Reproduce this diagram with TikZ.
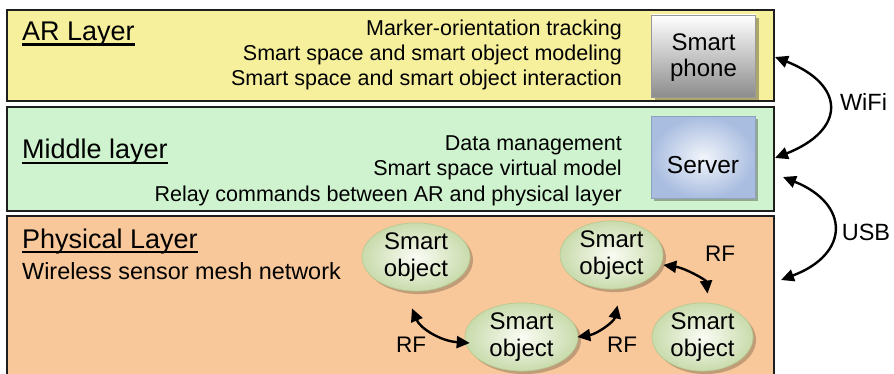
\documentclass[tikz,border=0pt]{standalone}
\usepackage{fontspec}
\setmainfont{Liberation Sans}
\usetikzlibrary{shapes.geometric,arrows.meta,shadows,calc}

\definecolor{arfill}{HTML}{F6F09C}
\definecolor{midfill}{HTML}{CFF3CE}
\definecolor{physfill}{HTML}{F8C89A}
\definecolor{frame}{HTML}{1E1E1E}
\definecolor{objin}{HTML}{FAFCF4}
\definecolor{objout}{HTML}{C9DBAC}
\definecolor{objrim}{HTML}{B3C98F}
\definecolor{srvin}{HTML}{F2F5FB}
\definecolor{srvout}{HTML}{A9BDE0}

\tikzset{
  layer/.style={draw=frame, line width=1.8pt},
  title/.style={anchor=base west, inner sep=0pt, font=\fontsize{27}{30}\selectfont},
  item/.style={anchor=base east, inner sep=0pt, font=\fontsize{21.5}{25}\selectfont},
  device/.style={rectangle, minimum width=104pt, minimum height=82pt, inner sep=0pt,
    drop shadow={shadow xshift=3pt, shadow yshift=-3pt, fill=black, opacity=0.3},
    font=\fontsize{24}{26}\selectfont, align=center},
  smartobj/.style={ellipse, inner sep=0pt, minimum height=62pt,
    shade, inner color=objin, outer color=objout, draw=objrim, line width=0.6pt,
    drop shadow={shadow xshift=3pt, shadow yshift=-3pt, fill=black, opacity=0.22},
    font=\fontsize{24}{26.5}\selectfont, align=center},
  link/.style={line width=2.4pt, {Triangle[length=13pt,width=12pt]}-{Triangle[length=13pt,width=12pt]}},
  lbl/.style={inner sep=0pt, font=\fontsize{23.5}{26}\selectfont},
  rflbl/.style={inner sep=0pt, font=\fontsize{22.5}{25}\selectfont},
}

\begin{document}
\begin{tikzpicture}[x=1pt, y=-1pt]
\useasboundingbox (0,0) rectangle (894,374);

% layer bands
\draw[layer, fill=arfill] (7,10) rectangle (774,101);
\draw[layer, fill=midfill] (7,107) rectangle (774,211);
\draw[layer, fill=physfill] (7,216) rectangle (774,384);

% layer titles with underlines
\node[title] (tar) at (22,40.5) {AR Layer};
\node[title] (tmid) at (22,159) {Middle layer};
\node[title] (tphys) at (22,248) {Physical Layer};
\foreach \t in {tar,tmid,tphys}
  \draw[line width=2.4pt] ($(\t.base west)+(0,4)$) -- ($(\t.base east)+(0,4)$);

% AR layer duties
\node[item] (ar1) at (622,36) {Marker-orientation tracking};
\node[item] (ar2) at (622,61) {Smart space and smart object modeling};
\node[item] (ar3) at (622,86) {Smart space and smart object interaction};

% middle layer duties
\node[item] (mid1) at (622,151) {Data management};
\node[item] (mid2) at (622,176) {Smart space virtual model};
\node[item] (mid3) at (622,202) {Relay commands between AR and physical layer};

% physical layer description
\node[anchor=base west, inner sep=0pt, font=\fontsize{23.4}{26}\selectfont] (phys1) at (22,279) {Wireless sensor mesh network};

% devices
\node[device, top color=white, bottom color=black!45, draw=black!40, line width=0.8pt] (phone) at (703.5,56) {};
\node[inner sep=0pt, font=\fontsize{24}{26}\selectfont, align=center] (phonetxt) at (703.5,58) {Smart\\phone};
\node[device, shade, inner color=srvin, outer color=srvout, draw=srvout!85!black, line width=0.8pt] (server) at (703,157.5) {};
\node[inner sep=0pt, font=\fontsize{24.5}{26}\selectfont] (srvtxt) at (703,165) {Server};

% smart objects
\node[smartobj, minimum width=108pt] (so1) at (416,257) {Smart\\object};
\node[smartobj, minimum width=103pt, minimum height=64pt] (so2) at (611.5,255) {Smart\\object};
\node[smartobj, minimum width=113pt, minimum height=60pt] (so3) at (521.5,337) {Smart\\object};
\node[smartobj, minimum width=101pt, minimum height=60pt] (so4) at (702.5,337) {Smart\\object};

% link end points
\coordinate (wifiA) at (775,57);
\coordinate (wifiB) at (775,158);
\coordinate (usbA) at (783,177);
\coordinate (usbB) at (781,280);
\coordinate (rfA1) at ($(so1.south)+(-4,17)$);
\coordinate (rfA2) at ($(so3.west)+(5,6)$);
\coordinate (rfB1) at ($(so3.east)+(-1,0)$);
\coordinate (rfB2) at ($(so2.south)+(6,16)$);
\coordinate (rfC1) at ($(so2.east)+(0,10)$);
\coordinate (rfC2) at ($(so4.north)+(5,-9)$);

% wired / wireless links between layers
\draw[link] (wifiA) .. controls (846,85) and (846,130) .. (wifiB);
\draw[link] (usbA) .. controls (850,204) and (850,254) .. (usbB);
\node[lbl] (wifi) at (863.5,102) {WiFi};
\node[lbl] (usb) at (866,232) {USB};

% RF links in the mesh
\draw[link] (rfA1) .. controls (420,328) and (440,341) .. (rfA2);
\draw[link] (rfB1) .. controls (597,334) and (614,322) .. (rfB2);
\draw[link] (rfC1) .. controls (685,268) and (706,280) .. (rfC2);
\node[rflbl] (rf1) at (411,345) {RF};
\node[rflbl] (rf2) at (622,345) {RF};
\node[rflbl] (rf3) at (720,254) {RF};
\end{tikzpicture}
\end{document}
